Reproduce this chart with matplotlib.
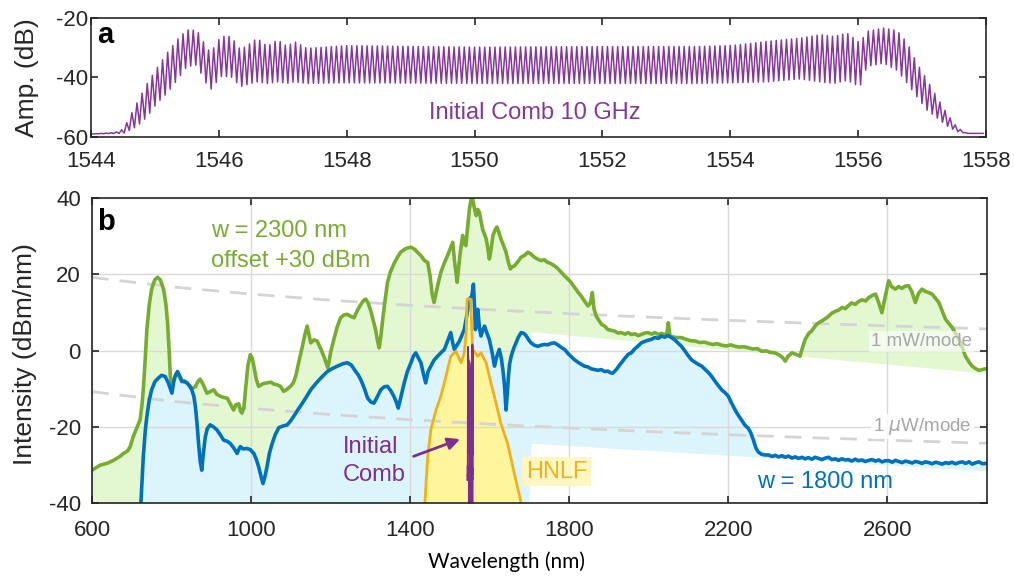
import numpy as np
import matplotlib.pyplot as plt

plt.rcParams['font.family'] = ['Liberation Sans', 'DejaVu Sans']
plt.rcParams['axes.unicode_minus'] = False

# colours (MATLAB defaults)
purple = '#7E2F8E'
green = '#77AC30'
blue = '#0072BD'
orange = '#EDB120'
axis_col = '#262626'

# ---- panel a: initial 10 GHz comb, envelopes ----
comb_spacing = 0.08  # nm (10 GHz at 1550 nm)
comb_knots = [1544.0, 1544.38, 1544.51, 1544.66, 1544.77, 1544.88, 1545.03, 1545.19,
              1545.35, 1545.5, 1545.66, 1545.77, 1545.87, 1546.03, 1546.19, 1546.34,
              1546.5, 1546.6, 1546.76, 1546.92, 1547.07, 1547.18, 1547.38, 1548.0,
              1550.0, 1552.0, 1553.5, 1554.05, 1554.57, 1554.83, 1555.09, 1555.41,
              1555.62, 1555.83, 1556.03, 1556.14, 1556.4, 1556.61, 1556.77, 1556.92,
              1557.08, 1557.23, 1557.39, 1557.55, 1557.7, 1558.0]
comb_top = [-59, -58.5, -57.3, -51, -46.5, -42, -36.9, -31.8, -27.3, -24, -24.2, -28.4,
            -31.8, -26.2, -26.2, -30.7, -28.4, -26.8, -29.6, -27.3, -29.6, -27.9, -30.2,
            -29.3, -29.8, -29.6, -29.6, -29.2, -27.9, -27.3, -26.8, -25.6, -26.2, -25.1,
            -28.4, -24.5, -23.4, -24.2, -28.4, -35.2, -40.8, -46.5, -52.1, -56.8, -58.8, -58.8]
comb_bottom = [-59, -58.8, -58.8, -57.2, -55.5, -53.2, -48.7, -45.3, -40.8, -36.4, -35.8,
               -40.8, -44.2, -39.7, -39.7, -43.1, -42, -41.5, -42, -41.5, -42, -41.5, -42,
               -41.8, -42, -42, -42, -41.8, -41.5, -41.0, -40.5, -41.5, -42, -41, -43.1,
               -36.3, -35.2, -37.6, -42, -46.5, -51, -53.5, -56.3, -58.2, -58.8, -58.8]

# ---- panel b: spectra (dBm/nm) ----
green_wl = [600, 620, 640, 654, 670, 679, 690, 696, 704, 712, 721, 726, 729, 734, 738, 744, 750, 758, 765, 772,
            780, 786, 790, 794, 797, 801, 806, 812, 818, 826, 839, 851, 860, 866, 872, 880, 889, 897, 906, 914,
            923, 931, 940, 948, 956, 962, 969, 973, 977, 982, 986, 992, 998, 1003, 1007, 1013, 1019, 1030, 1040, 1050,
            1057, 1066, 1074, 1082, 1090, 1099, 1106, 1112, 1120, 1129, 1136, 1141, 1146, 1150, 1158, 1166, 1175, 1183, 1193, 1200,
            1208, 1216, 1225, 1233, 1242, 1250, 1259, 1267, 1276, 1282, 1288, 1294, 1301, 1307, 1313, 1318, 1322, 1326, 1330, 1336,
            1343, 1350, 1359, 1367, 1376, 1390, 1402, 1412, 1418, 1427, 1436, 1444, 1450, 1455, 1460, 1465, 1469, 1477, 1486, 1494,
            1500, 1507, 1512, 1518, 1522, 1526, 1532, 1536, 1540, 1545, 1549, 1553, 1557, 1561, 1566, 1570, 1574, 1578, 1582, 1591,
            1595, 1599, 1604, 1608, 1613, 1618, 1623, 1628, 1635, 1641, 1646, 1652, 1657, 1662, 1670, 1679, 1688, 1696, 1704, 1712,
            1720, 1729, 1737, 1746, 1754, 1763, 1771, 1780, 1788, 1797, 1805, 1813, 1822, 1830, 1838, 1847, 1853, 1858, 1862, 1868,
            1875, 1881, 1889, 1897, 1905, 1914, 1922, 1931, 1940, 1948, 1956, 1965, 1973, 1981, 1990, 1998, 2007, 2015, 2024, 2032,
            2040, 2046, 2049, 2053, 2060, 2070, 2082, 2092, 2104, 2116, 2128, 2140, 2149, 2160, 2172, 2183, 2195, 2206, 2217, 2228,
            2240, 2250, 2262, 2273, 2284, 2295, 2306, 2317, 2328, 2336, 2343, 2350, 2360, 2370, 2380, 2387, 2393, 2402, 2410, 2418,
            2426, 2435, 2443, 2452, 2460, 2469, 2477, 2486, 2494, 2502, 2510, 2519, 2528, 2536, 2545, 2553, 2561, 2570, 2578, 2586,
            2594, 2603, 2610, 2620, 2628, 2636, 2645, 2653, 2661, 2670, 2678, 2687, 2695, 2704, 2712, 2720, 2729, 2737, 2746, 2755,
            2763, 2771, 2780, 2788, 2796, 2805, 2813, 2822, 2830, 2838, 2846, 2855]
green_db = [-31.4, -30.1, -29.5, -28.8, -27.8, -27.0, -26.3, -25.2, -22.5, -20.5, -18.2, -14, -10.3, -2, 5.5, 12, 16.1, 18.6, 19.2, 18.5,
            16.1, 12, 7.4, 0, -6.8, -9.4, -7.5, -6, -6.5, -8.1, -8.5, -10, -9.5, -8.2, -7.5, -9, -11.2, -10.8, -10.3, -11.5,
            -12, -12.3, -12.5, -14, -15.6, -14.2, -14, -15.8, -16.4, -15, -10.3, -4, -1.1, -2, -4.1, -7.5, -9.4, -8.7, -8.5, -8.3,
            -8.8, -9, -9.4, -10.7, -10.2, -9.4, -8.5, -6.8, -3, 1.1, 4.5, 6.4, 4, 2.0, 2.8, 2.5, 0.5, -1.5, -4.6, -0.5,
            2.9, 6, 8.6, 9.3, 9.5, 9.0, 8.6, 10.5, 12.1, 13, 13.5, 12.5, 10.4, 8, 5.5, 2.5, 0.7, 3.5, 7.3, 12.5,
            17.9, 20.5, 22.7, 24.3, 25.8, 26.8, 27.1, 26.5, 25.8, 24.9, 23.6, 23.1, 19.6, 15, 12.6, 15, 17, 20.5, 23, 24.9,
            26.5, 28.4, 23, 17.9, 22, 25.8, 30.2, 28, 27.5, 33, 37.2, 39.5, 39.8, 37.5, 35.4, 37, 36.3, 34, 31.9, 29.3,
            27, 24.0, 27, 30.2, 31.5, 32.4, 31, 29.3, 27.5, 25.8, 23.5, 21.4, 22, 22.2, 23.2, 24.5, 25, 25.8, 25.3, 24.5,
            24.0, 23.6, 23.8, 23.1, 22.8, 22.2, 21.5, 20.5, 19.6, 18.7, 17.8, 16.6, 15.3, 14.3, 13, 11.7, 12.5, 15.2, 11, 9.0,
            7.8, 6.9, 6.4, 5.5, 5.3, 5.1, 4.6, 4.7, 4.3, 4.7, 4.2, 4.4, 3.9, 4.2, 4.6, 4.7, 4.3, 4.7, 4.2, 4.5,
            4.1, 4.8, 7.3, 3.8, 3.6, 3.4, 3.4, 3.0, 2.6, 2.5, 2.1, 2.2, 1.9, 1.6, 1.8, 1.4, 1.2, 1.5, 1.1, 0.9,
            1.0, 0.7, 0.4, 0.5, -0.2, -0.1, -0.5, -0.6, -1.2, -1.8, -2.8, -1.5, -0.6, -1.0, -1.5, 1.0, 2.9, 4.5, 5.2, 6.4,
            7.2, 7.8, 8.3, 9.0, 9.8, 10.3, 10.6, 11.3, 11.0, 11.8, 12.5, 12.1, 12.9, 13.3, 13.0, 13.9, 14.4, 14.8, 12.5, 9.9,
            14, 18.3, 16.8, 16.1, 16.8, 16.3, 16.9, 17.0, 15.5, 12.6, 15, 16.1, 15.5, 15.2, 14.8, 13.8, 12.6, 10.5, 8.2, 7,
            6.0, 4.5, 2.9, 0.8, -1.5, -3.0, -4.1, -4.8, -5.2, -5.0, -4.8, -4.8]

blue_wl = [723, 729, 734, 738, 744, 750, 758, 767, 775, 784, 792, 801, 805, 809, 815, 820, 826, 832, 839, 845,
           851, 856, 860, 864, 868, 872, 876, 880, 885, 890, 897, 905, 914, 922, 931, 940, 948, 956, 965, 969,
           973, 980, 990, 998, 1007, 1013, 1019, 1025, 1030, 1035, 1040, 1046, 1053, 1061, 1070, 1080, 1091, 1099, 1107, 1118,
           1129, 1140, 1150, 1160, 1171, 1182, 1192, 1205, 1217, 1230, 1242, 1252, 1263, 1270, 1276, 1285, 1293, 1301, 1309, 1318,
           1326, 1335, 1343, 1351, 1359, 1365, 1370, 1377, 1385, 1393, 1402, 1408, 1414, 1420, 1427, 1433, 1439, 1445, 1452, 1460,
           1469, 1478, 1486, 1494, 1502, 1507, 1511, 1518, 1524, 1530, 1536, 1542, 1549, 1555, 1559, 1562, 1564, 1567, 1570, 1574,
           1578, 1583, 1587, 1593, 1599, 1606, 1612, 1618, 1624, 1629, 1633, 1637, 1641, 1645, 1647, 1650, 1654, 1660, 1666, 1672,
           1679, 1686, 1692, 1698, 1704, 1712, 1721, 1729, 1738, 1746, 1755, 1763, 1771, 1780, 1788, 1797, 1805, 1813, 1822, 1830,
           1838, 1847, 1855, 1864, 1872, 1880, 1889, 1897, 1905, 1910, 1918, 1925, 1931, 1940, 1948, 1956, 1965, 1973, 1981, 1990,
           1998, 2006, 2015, 2024, 2032, 2040, 2048, 2057, 2065, 2073, 2082, 2090, 2098, 2107, 2115, 2124, 2133, 2141, 2150, 2158,
           2166, 2175, 2183, 2191, 2200, 2208, 2217, 2225, 2233, 2241, 2250, 2256, 2263, 2269, 2275, 2283, 2292, 2301, 2310, 2318,
           2326, 2335, 2343, 2351, 2360, 2368, 2376, 2385, 2393, 2401, 2410, 2418, 2427, 2435, 2444, 2452, 2460, 2469, 2477, 2485,
           2494, 2502, 2510, 2519, 2527, 2536, 2544, 2553, 2561, 2570, 2578, 2586, 2595, 2603, 2612, 2620, 2628, 2637, 2645, 2653,
           2662, 2670, 2679, 2687, 2695, 2704, 2712, 2721, 2729, 2737, 2746, 2754, 2762, 2771, 2779, 2788, 2796, 2805, 2813, 2822,
           2830, 2839, 2847, 2855]
blue_db = [-40, -27.9, -21, -17.3, -13, -10.3, -8.2, -7.2, -6.5, -6.8, -8.5, -11.2, -8.5, -6.8, -5.5, -6.5, -8.1, -8, -8.5, -9.2,
           -10.3, -12, -14.7, -19, -24.4, -29, -31.4, -27, -22.6, -20.5, -19.5, -20, -20.8, -22, -23.5, -23.8, -24.4, -25.5, -27, -26,
           -25.2, -25.8, -25.7, -26, -27, -28.5, -30.5, -33, -34.9, -33, -30.5, -27, -24.4, -22, -20.2, -19.8, -19.5, -18.5, -17.3, -15.5,
           -13.8, -12, -10.3, -9, -7.7, -6.5, -5.5, -4.7, -4.1, -3.5, -3.2, -3.8, -5.5, -6.5, -7.7, -10, -12.5, -13.5, -13.8, -12,
           -10.3, -9.5, -9.4, -10.5, -12, -13.5, -15.1, -12, -8.5, -5.5, -3.2, -1.5, -0.6, -1.8, -3.2, -6, -8.5, -5.5, -4.1, -2.5,
           -1.5, -0.5, 0.3, 2.5, 4.7, 2, 0.3, 1.5, 2.5, 4.0, 5.5, 9, 13.5, 14.3, 17.4, 11, 5.5, 8, 10.8, 6,
           3.8, 5.5, 6.4, 4.5, 2.9, -0.5, -4.1, -1.5, 0.3, -2, -5, -9, -15.6, -10, -6.8, -3.5, -1.5, 0.5, 2.0, 3.5,
           4.7, 4.5, 3.8, 2.8, 2.0, 1.4, 1.1, 1.4, 1.6, 1.5, 1.9, 2.0, 1.5, 0.8, 0.3, -0.8, -1.6, -2.4, -3.1, -3.6,
           -4.1, -4.3, -4.8, -5.0, -5.2, -5.0, -5.5, -5.4, -5.9, -5.9, -5.0, -4.0, -3.2, -2.0, -1.0, -0.6, 0.5, 1.2, 2.0, 2.4,
           2.7, 2.9, 3.4, 3.2, 3.8, 3.5, 3.9, 3.4, 2.8, 2.0, 1.1, 0.0, -1.2, -2.4, -3.0, -3.6, -4.1, -4.9, -5.8, -6.8,
           -8.0, -9.2, -10.3, -11.0, -12.0, -13.8, -15.6, -17.0, -18.2, -19.5, -20.4, -21.5, -23.5, -25.5, -26.6, -27.2, -27.4, -27.4, -27.8, -27.5,
           -27.9, -27.6, -28.0, -27.7, -28.2, -27.9, -28.3, -28.0, -28.4, -28.1, -28.5, -28.0, -28.3, -28.6, -28.2, -28.0, -28.6, -28.4, -28.8, -28.4,
           -28.7, -28.6, -29.0, -28.5, -28.9, -28.7, -29.1, -28.8, -28.6, -29.0, -28.7, -29.2, -28.9, -28.9, -29.3, -28.8, -29.1, -29.4, -29.0, -29.2,
           -29.5, -29.1, -29.3, -29.6, -29.2, -29.4, -29.7, -29.3, -29.5, -29.8, -29.4, -29.6, -29.3, -29.7, -29.4, -29.2, -29.6, -29.2, -29.8, -29.4,
           -29.2, -29.7, -29.6, -29.8]

hnlf_wl = [1437, 1444, 1452, 1465, 1477, 1490, 1502, 1515, 1528, 1536, 1541, 1543, 1552, 1555,
           1557, 1570, 1578, 1591, 1603, 1616, 1628, 1645, 1662, 1679]
hnlf_db = [-40, -27.9, -20.8, -15.6, -12, -6.8, -1.5, -0.2, -3.2, -0.6, 5, 13.5, 13.5, 5,
           0.3, -1.5, -0.6, -3.2, -8.5, -13.8, -19.1, -24.4, -32.3, -40]

# power-per-mode reference lines
mode_wl = [600, 800, 1000, 1200, 1400, 1600, 1800, 2000, 2200, 2400, 2600, 2850]
mw_mode = [19.2, 16.7, 14.8, 13.2, 11.85, 10.7, 9.67, 8.75, 7.92, 7.17, 6.47, 5.67]
uw_mode = [v - 30 for v in mw_mode]

# lower edges of the shaded areas beyond 1700 nm
green_floor_wl, green_floor = [1700, 2855], [5.0, -6.0]
blue_floor_wl, blue_floor = [1700, 2855], [-24.3, -31.6]

fig = plt.figure(figsize=(10.14, 5.76), dpi=100)
ax_a = fig.add_axes([0.0897, 0.7622, 0.8826, 0.2066])
ax_b = fig.add_axes([0.0907, 0.1267, 0.8826, 0.5295])

# comb trace: one peak per mode, one dip in between
modes = np.arange(1544.0, 1558.0, comb_spacing)
cx = np.empty(2 * len(modes))
cx[0::2] = modes
cx[1::2] = modes + comb_spacing / 2
cy = np.empty_like(cx)
cy[0::2] = np.interp(cx[0::2], comb_knots, comb_top)
cy[1::2] = np.interp(cx[1::2], comb_knots, comb_bottom)

ax_a.plot(cx, cy, color='#86389a', lw=1.1, solid_joinstyle='round')
ax_a.set_xlim(1544, 1558)
ax_a.set_ylim(-60, -20)
ax_a.set_xticks(np.arange(1544, 1559, 2))
ax_a.set_yticks([-60, -40, -20])
ax_a.set_ylabel('Amp. (dB)', fontsize=19, color=axis_col)
ax_a.yaxis.set_label_coords(-0.058, 0.5)
ax_a.text(0.007, 0.86, 'a', transform=ax_a.transAxes, fontsize=21, fontweight='bold',
          va='center', ha='left')
ax_a.text(1550.95, -52, 'Initial Comb 10 GHz', color='#86389a', fontsize=17, ha='center', va='center')
ax_a.tick_params(axis='x', pad=10)
ax_a.tick_params(axis='y', pad=2)

# panel b
gw, g = np.array(green_wl), np.array(green_db)
bw, b = np.array(blue_wl), np.array(blue_db)
g_lo = np.where(gw < 1700, -40, np.interp(gw, green_floor_wl, green_floor))
b_lo = np.where(bw < 1700, -40, np.interp(bw, blue_floor_wl, blue_floor))
ax_b.fill_between(gw, np.minimum(g_lo, g), g, color='#e3f8d0', lw=0, zorder=1)
ax_b.fill_between(bw, np.minimum(b_lo, b), b, color='#dcf4fc', lw=0, zorder=1.1)
ax_b.fill_between(hnlf_wl, -40, hnlf_db, color='#fff59c', lw=0, zorder=1.2)

ax_b.plot(mode_wl, mw_mode, color='#d4d4d4', lw=2, dashes=(6, 4), zorder=1.5)
ax_b.plot(mode_wl, uw_mode, color='#d4d4d4', lw=2, dashes=(6, 4), zorder=1.5)

ax_b.plot(gw, g, color=green, lw=2.6, zorder=3)
ax_b.plot(bw, b, color=blue, lw=2.6, zorder=3.2)
ax_b.plot(hnlf_wl, hnlf_db, color=orange, lw=2.0, zorder=3.4)
ax_b.fill_between(cx, -40, cy + 25, color=purple, lw=0, zorder=3.6)
ax_b.plot(cx, cy + 25, color=purple, lw=1.2, zorder=3.6)

ax_b.set_xlim(600, 2850)
ax_b.set_ylim(-40, 40)
ax_b.set_xticks([600, 1000, 1400, 1800, 2200, 2600])
ax_b.set_yticks([-40, -20, 0, 20, 40])
ax_b.set_axisbelow(False)
ax_b.grid(True, color='#d9d9d9', lw=1)
ax_b.set_ylabel('Intensity (dBm/nm)', fontsize=19, color=axis_col)
ax_b.yaxis.set_label_coords(-0.061, 0.49)
ax_b.tick_params(axis='x', pad=12)
ax_b.tick_params(axis='y', pad=8)

ax_b.text(0.006, 0.92, 'b', transform=ax_b.transAxes, fontsize=21, fontweight='bold',
          va='center', ha='left')
ax_b.text(900, 27.5, 'w = 2300 nm\noffset +30 dBm', color=green, fontsize=17,
          ha='left', va='center', linespacing=1.45, zorder=4)
ax_b.text(1230, -29, 'Initial\nComb', color=purple, fontsize=17, ha='left', va='center',
          linespacing=1.4, zorder=4)
ax_b.annotate('', xy=(1532, -23), xytext=(1402, -28),
              arrowprops=dict(arrowstyle='-|>', color=purple, lw=2, mutation_scale=18), zorder=4)
ax_b.text(1691, -31.8, 'HNLF', color=orange, fontsize=17, ha='left', va='center', zorder=4,
          bbox=dict(boxstyle='square,pad=0.15', fc='#fff7c2', ec='none'))
ax_b.text(2271, -34.5, 'w = 1800 nm', color=blue, fontsize=17, ha='left', va='center', zorder=4)
ax_b.text(2812, 2.4, '1 mW/mode', color='#a6a6a6', fontsize=13.5, ha='right', va='center', zorder=4,
          bbox=dict(boxstyle='square,pad=0.1', fc='white', ec='none', alpha=0.6))
ax_b.text(2812, -20, r'1 $\mu$W/mode', color='#a6a6a6', fontsize=13.5, ha='right', va='center', zorder=4,
          bbox=dict(boxstyle='square,pad=0.1', fc='white', ec='none', alpha=0.8))

for ax in (ax_a, ax_b):
    ax.tick_params(direction='in', top=True, right=True, length=5, width=1.2,
                   labelsize=16, color=axis_col, labelcolor=axis_col)
    for s in ax.spines.values():
        s.set_color(axis_col)
        s.set_linewidth(1.2)
        s.set_zorder(5)

fig.text(0.5, 0.024, 'Wavelength (nm)', fontsize=15, family=['Lato', 'DejaVu Sans'],
         ha='center', va='center', color='black')

fig.savefig('out.png', dpi=100)
